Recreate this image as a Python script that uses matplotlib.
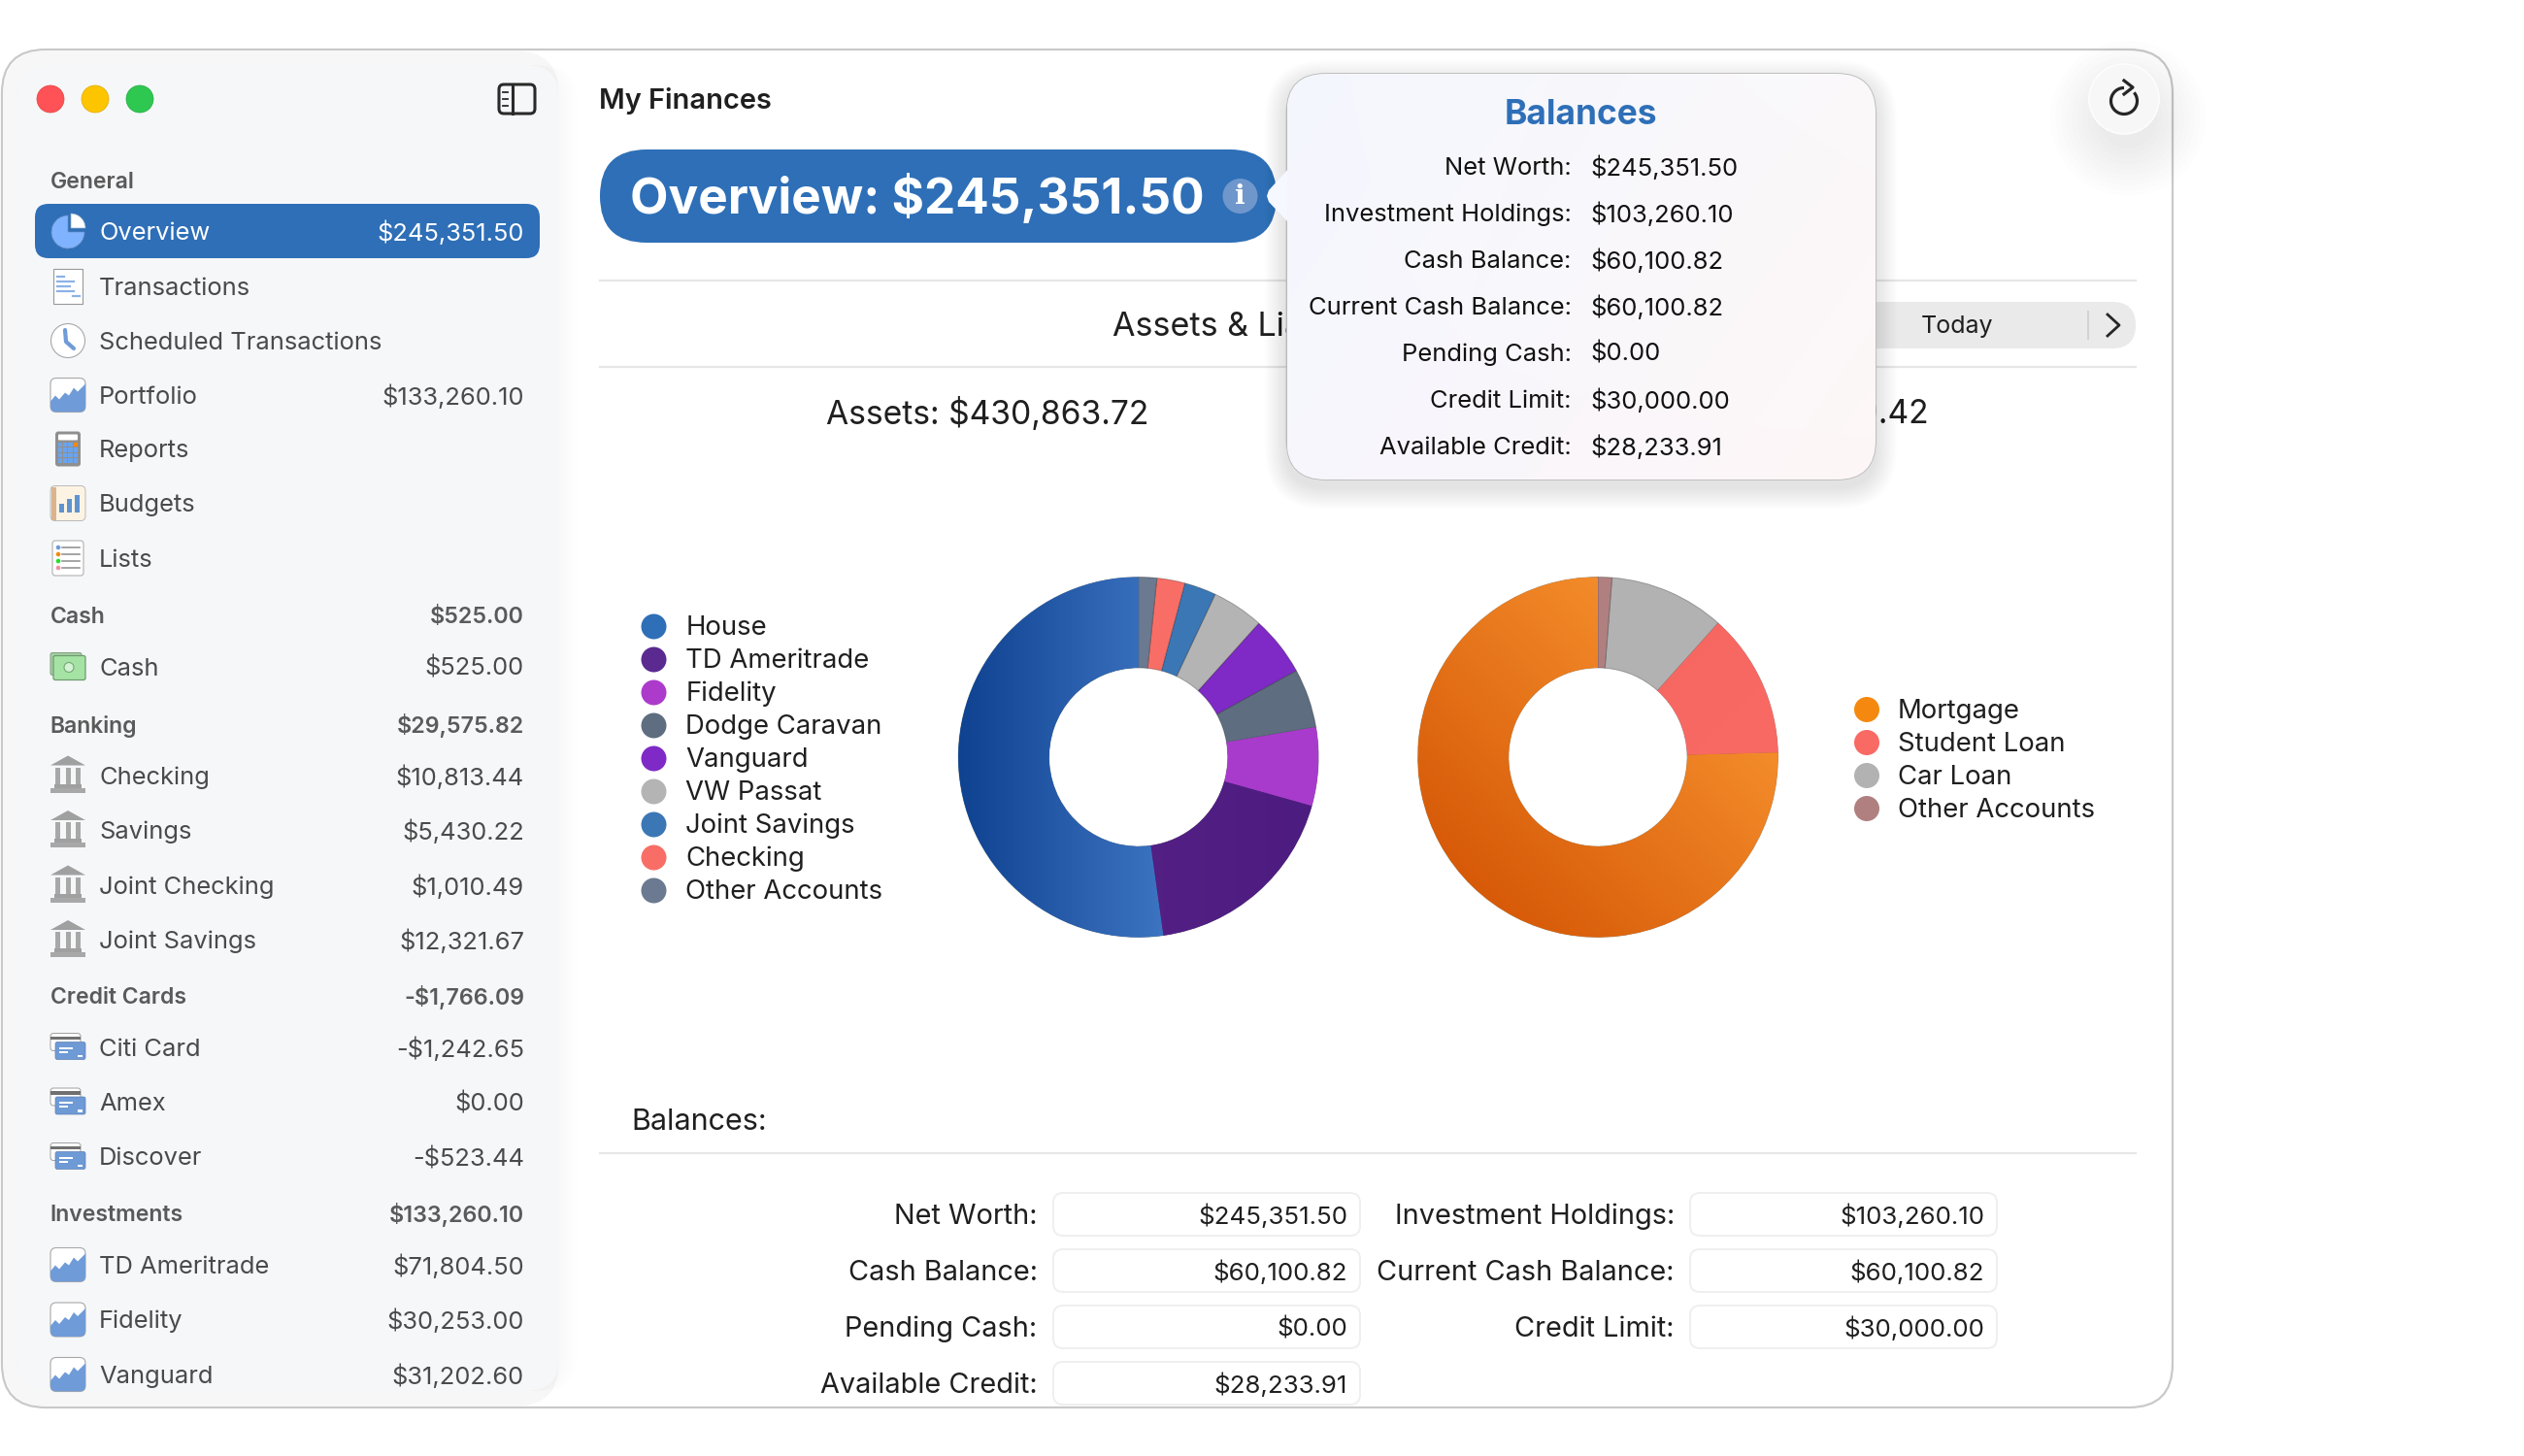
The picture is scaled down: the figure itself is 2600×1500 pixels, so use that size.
#!/usr/bin/env python3
"""Finance app overview screen: sidebar, balances popover and two donut charts."""

import numpy as np
import matplotlib
matplotlib.use("Agg")
import matplotlib.pyplot as plt
from matplotlib.colors import LinearSegmentedColormap
from matplotlib.patches import Arc, Circle, FancyBboxPatch, Polygon, Rectangle, Wedge

plt.rcParams["font.family"] = ["Inter", "DejaVu Sans"]

# sidebar
sidebar_labels = ["General", "Overview", "Transactions", "Scheduled Transactions", "Portfolio",
                  "Reports", "Budgets", "Lists", "Cash", "Cash", "Banking", "Checking", "Savings",
                  "Joint Checking", "Joint Savings", "Credit Cards", "Citi Card", "Amex", "Discover",
                  "Investments", "TD Ameritrade", "Fidelity", "Vanguard"]
sidebar_values = ["", "$245,351.50", "", "", "$133,260.10", "", "", "", "$525.00", "$525.00",
                  "$29,575.82", "$10,813.44", "$5,430.22", "$1,010.49", "$12,321.67", "-$1,766.09",
                  "-$1,242.65", "$0.00", "-$523.44", "$133,260.10", "$71,804.50", "$30,253.00",
                  "$31,202.60"]
sidebar_icons = [None, "pie", "receipt", "clock", "chart", "calc", "budget", "list", None, "cash",
                 None, "bank", "bank", "bank", "bank", None, "card", "card", "card", None,
                 "chart", "chart", "chart"]
sidebar_y = [186, 238, 294.5, 351, 406.5, 462.5, 518.5, 575, 633.5, 686.5, 745.5, 798.5, 855, 911.5, 968,
             1025.5, 1078.5, 1135, 1191.5, 1249.5, 1302.5, 1359, 1415.5]

# donuts, counter-clockwise from the top
asset_names = ["House", "TD Ameritrade", "Fidelity", "Dodge Caravan", "Vanguard", "VW Passat",
               "Joint Savings", "Checking", "Other Accounts"]
asset_values = [225000, 79400, 30253, 22900, 23100, 20000, 12321.67, 10813.44, 7075.61]
asset_colors = ["#2e6fb7", "#5a2a91", "#ac3bcb", "#5e6d80", "#7f2ac6", "#b4b4b4", "#3b77b5",
                "#f86e66", "#6b7a90"]
liability_names = ["Mortgage", "Student Loan", "Car Loan", "Other Accounts"]
liability_values = [139908, 24013, 19272, 2319]
liability_colors = ["#f5880f", "#f96a64", "#b2b2b2", "#b08080"]

# popover and balance fields
balance_labels = ["Net Worth:", "Investment Holdings:", "Cash Balance:", "Current Cash Balance:",
                  "Pending Cash:", "Credit Limit:", "Available Credit:"]
balance_values = ["$245,351.50", "$103,260.10", "$60,100.82", "$60,100.82", "$0.00", "$30,000.00",
                  "$28,233.91"]
# reading order of the field block: left column then right column
field_left = [0, 2, 4, 6]
field_right = [1, 3, 5]

TEXT = "#1f1f1f"
SIDE_TEXT = "#4a4a4a"
BLUE = "#2e6fb7"
RULE = "#e6e6e6"


def fs(px):
    return px * 0.72


def txt(ax, x, y, s, px, **kw):
    # Inter sits a bit high against the reference font
    kw.setdefault("va", "center")
    return ax.text(x, y + 2.5, s, fontsize=fs(px), **kw)


def rrect(ax, x, y, w, h, r, **kw):
    kw.setdefault("linewidth", 0)
    p = FancyBboxPatch((x, y), w, h, boxstyle=f"round,pad=0,rounding_size={r}", **kw)
    ax.add_patch(p)
    return p


def draw_icon(ax, kind, cx, cy):
    z = 6
    if kind == "pie":
        ax.add_patch(Wedge((cx, cy + 1), 17, 0, 270, facecolor="#7fb3ff", edgecolor="#6a8fc0",
                           linewidth=0.5, zorder=z))
        ax.add_patch(Wedge((cx + 3, cy - 3), 15, -90, 0, facecolor="white", edgecolor="#8fa8c8",
                           linewidth=0.5, zorder=z))
    elif kind == "receipt":
        ax.add_patch(Rectangle((cx - 15, cy - 18), 30, 36, facecolor="white", edgecolor="#999999",
                               linewidth=0.8, zorder=z))
        for dy, x0, x1 in [(-10, -11, -4), (-5, -11, 6), (0, -11, 2), (5, -11, 6), (10, 5, 12)]:
            ax.plot([cx + x0, cx + x1], [cy + dy, cy + dy], color="#8db2e6", linewidth=1.6, zorder=z + 1)
    elif kind == "clock":
        ax.add_patch(Circle((cx, cy), 17.5, facecolor="white", edgecolor="#a8a8a8", linewidth=0.8, zorder=z))
        ax.plot([cx - 3, cx - 2, cx + 6], [cy - 11, cy + 1, cy + 8], color="#6f9bd8", linewidth=3,
                solid_capstyle="round", solid_joinstyle="round", zorder=z + 1)
    elif kind == "chart":
        clip = rrect(ax, cx - 18, cy - 17, 36, 35, 6, facecolor="white", edgecolor="#a8a8a8",
                     linewidth=0.8, zorder=z)
        area = Polygon([(cx - 18, cy + 18), (cx - 18, cy + 7), (cx - 13, cy + 1), (cx - 9, cy + 5), (cx - 3, cy - 2),
                        (cx + 1, cy + 1), (cx + 6, cy - 7), (cx + 10, cy - 3), (cx + 18, cy - 11), (cx + 18, cy + 18)],
                       facecolor="#6f9bd8", edgecolor="none", zorder=z + 1)
        ax.add_patch(area)
        area.set_clip_path(clip)
    elif kind == "calc":
        rrect(ax, cx - 13, cy - 18, 26, 36, 3, facecolor="#8f8f8f", zorder=z)
        rrect(ax, cx - 10, cy - 15, 20, 6, 1, facecolor="white", zorder=z + 1)
        for row in range(4):
            for col in range(4):
                c = "#f28a10" if row == 0 and col == 3 else "#6aa4ee"
                ax.add_patch(Rectangle((cx - 10.5 + col * 5.4, cy - 7 + row * 5.6), 4.4, 4.6,
                                       facecolor=c, zorder=z + 1))
    elif kind == "budget":
        rrect(ax, cx - 18, cy - 18, 36, 36, 5, facecolor="#fdf3e3", edgecolor="#b0b0b0",
              linewidth=0.6, zorder=z)
        ax.add_patch(Rectangle((cx - 17.5, cy - 17), 5, 34, facecolor="#d9b48f", zorder=z + 1))
        for x0, top in [(-9, 0), (-1, -5), (7, -9)]:
            ax.add_patch(Rectangle((cx + x0, cy + top), 5, 9 - top, facecolor="#5f93d0", zorder=z + 1))
    elif kind == "list":
        rrect(ax, cx - 16, cy - 18, 32, 36, 3, facecolor="white", edgecolor="#b0b0b0", linewidth=0.8, zorder=z)
        for dy, c in zip([-11, -4, 3, 10], ["#6f9bd8", "#f28a10", "#25e02a", "#f28fa5"]):
            ax.add_patch(Circle((cx - 10, cy + dy), 2.3, facecolor=c, zorder=z + 1))
            ax.plot([cx - 6, cx + 12], [cy + dy, cy + dy], color="#8c8c8c", linewidth=1.1, zorder=z + 1)
    elif kind == "cash":
        rrect(ax, cx - 18, cy - 14, 32, 23, 2, facecolor="#a3cfa3", edgecolor="#7d9e7d", linewidth=0.7, zorder=z)
        rrect(ax, cx - 15, cy - 11, 33, 25, 2, facecolor="#a5e3a5", edgecolor="#6f9a6f", linewidth=0.9, zorder=z + 1)
        ax.add_patch(Circle((cx + 1, cy + 1), 5, facecolor="#d4f2d4", edgecolor="#74a874", linewidth=0.8, zorder=z + 2))
    elif kind == "bank":
        ax.add_patch(Polygon([(cx - 18, cy - 10), (cx, cy - 20), (cx + 18, cy - 10)], facecolor="#a0a0a0", zorder=z))
        for x0 in [-13, -2.5, 8]:
            ax.add_patch(Rectangle((cx + x0, cy - 8), 5, 18, facecolor="#a8a8a8", zorder=z))
        ax.add_patch(Rectangle((cx - 14, cy + 9), 28, 4, facecolor="#a0a0a0", zorder=z))
        ax.add_patch(Rectangle((cx - 18, cy + 13), 36, 5, facecolor="#a8a8a8", zorder=z))
    elif kind == "card":
        rrect(ax, cx - 18, cy - 14, 31, 18, 3, facecolor="white", edgecolor="#a0a0a0", linewidth=0.7, zorder=z)
        ax.add_patch(Rectangle((cx - 18, cy - 11), 31, 3.5, facecolor="#707070", zorder=z + 1))
        rrect(ax, cx - 13, cy - 5, 31, 18, 2, facecolor="#6e9ad6", edgecolor="#5f7fae", linewidth=0.5, zorder=z + 2)
        for dy, w in [(0, 14), (4, 9)]:
            ax.add_patch(Rectangle((cx - 9, cy + dy), w, 2, facecolor="white", zorder=z + 3))
        ax.add_patch(Rectangle((cx + 10, cy + 8), 5, 2.5, facecolor="white", zorder=z + 3))


def draw_donut(fig, cx, cy, values, colors, gradients):
    R = 185.5
    axp = fig.add_axes([(cx - R) / 2600, 1 - (cy + R) / 1500, 2 * R / 2600, 2 * R / 1500], zorder=5)
    wedges, _ = axp.pie(values, colors=colors, startangle=90, counterclock=True, radius=1,
                        wedgeprops=dict(width=1 - 92 / R, edgecolor="#00000044", linewidth=0.7))
    for idx, (c0, c1, dx, dy) in gradients.items():
        xx, yy = np.meshgrid(np.linspace(-1, 1, 300), np.linspace(-1, 1, 300))
        grad = xx * dx + yy * dy
        grad = (grad - grad.min()) / (grad.max() - grad.min())
        cmap = LinearSegmentedColormap.from_list("g", [c0, c1])
        im = axp.imshow(grad, cmap=cmap, extent=(-1, 1, -1, 1), origin="lower", zorder=3)
        im.set_clip_path(wedges[idx])
    axp.set_xlim(-1, 1)
    axp.set_ylim(-1, 1)
    axp.set_aspect("equal")
    axp.axis("off")


def draw_legend(ax, names, colors, x_dot, x_text, y_start):
    for i, (name, c) in enumerate(zip(names, colors)):
        y = y_start + i * 34.0
        ax.add_patch(Circle((x_dot, y), 13, facecolor=c, zorder=4))
        txt(ax, x_text, y - 0.8, name, 27.5, color=TEXT, ha="left", zorder=4)


fig = plt.figure(figsize=(26, 15), dpi=100, facecolor="white")
ax = fig.add_axes([0, 0, 1, 1])
ax.set_xlim(0, 2600)
ax.set_ylim(1500, 0)
ax.axis("off")

# window and sidebar
rrect(ax, 2, 51, 2236, 1399, 45, facecolor="white", edgecolor="#c9c9c9", linewidth=1.6, zorder=1)
rrect(ax, 3.5, 52.5, 572, 1396, 44, facecolor="#f7f7f7", zorder=1.1)
for i in range(6):
    rrect(ax, 17, 67, 559 + (6 - i) * 3, 1366, 34, facecolor="black", alpha=0.003, zorder=1.2)
rrect(ax, 17, 67, 559, 1366, 34, facecolor="#f6f7f9", zorder=2)

for x, c, e in [(52, "#ff5257", "#e0443e"), (98, "#fdc500", "#e0a800"), (144, "#2ec850", "#24a83f")]:
    ax.add_patch(Circle((x, 102), 14, facecolor=c, edgecolor=e, linewidth=0.5, zorder=3))
rrect(ax, 514, 87, 37, 30, 5, facecolor="none", edgecolor="#2a2a2a", linewidth=2.2, zorder=3)
ax.plot([527.5, 527.5], [87, 117], color="#2a2a2a", linewidth=2.2, zorder=3)
for y in [95, 102, 109]:
    ax.plot([518, 523], [y, y], color="#2a2a2a", linewidth=1.3, zorder=3)

rrect(ax, 36, 210, 520, 56, 14, facecolor=BLUE, zorder=3)
for label, value, icon, y in zip(sidebar_labels, sidebar_values, sidebar_icons, sidebar_y):
    if icon is None:
        txt(ax, 51.5, y, label, 23, fontweight="semibold", color="#5a5a5a", zorder=7)
        txt(ax, 540, y, value, 23.3, fontweight="semibold", color="#5a5a5a", ha="right", zorder=7)
    else:
        col = "white" if label == "Overview" else SIDE_TEXT
        draw_icon(ax, icon, 70, y)
        txt(ax, 102, y, label, 25.5, color=col, zorder=7)
        txt(ax, 540, y, value, 25.5, color=col, ha="right", zorder=7)

# header
txt(ax, 617, 102, "My Finances", 29, fontweight="semibold", color=TEXT, zorder=3)
rrect(ax, 618, 154, 697, 96, 48, facecolor=BLUE, zorder=3)
txt(ax, 649, 202, "Overview: $245,351.50", 51.2, fontweight="bold", color="white", zorder=4)
ax.add_patch(Circle((1277.5, 202), 18, facecolor="#6f97cc", zorder=4))
ax.text(1277.5, 202, "i", fontsize=fs(28), fontweight="bold", color="white", ha="center", va="center",
        family=["DejaVu Serif"], zorder=5)

ax.plot([618, 2200], [289, 289], color=RULE, linewidth=1.6, zorder=2)
ax.plot([618, 2200], [378, 378], color=RULE, linewidth=1.6, zorder=2)
# the popover hides the rest of these two lines
txt(ax, 1146, 335, "Assets & Lia", 34, color=TEXT, zorder=3)
txt(ax, 851, 424, "Assets: $430,863.72", 33.6, color=TEXT, zorder=3)
txt(ax, 1987, 424, "9.42", 33.6, color=TEXT, ha="right", zorder=3)

rrect(ax, 1500, 311, 700, 48, 24, facecolor="#eaeaea", zorder=2)
txt(ax, 2016, 333.5, "Today", 25, color=TEXT, ha="center", zorder=3)
ax.plot([2151, 2151], [321, 349], color="#d2d2d2", linewidth=1.4, zorder=3)
ax.plot([2171, 2183, 2171], [324, 335, 346], color="#262626", linewidth=2, zorder=3)

# refresh button
for i in range(10):
    ax.add_patch(Circle((2192, 122), 80 - i * 5.5, facecolor="black", alpha=0.006, edgecolor="none", zorder=2))
ax.add_patch(Circle((2188, 102), 36, facecolor="#f7f7f7", edgecolor="#fdfdfd", linewidth=1.2, zorder=3))
ax.add_patch(Arc((2188, 104), 27, 27, theta1=-40, theta2=270, color="#262626", linewidth=2.3, zorder=4))
ax.plot([2188, 2197, 2188], [83, 90, 97], color="#262626", linewidth=2.3, zorder=4)

# donuts
draw_donut(fig, 1172.7, 780, asset_values, asset_colors,
           {0: ("#0f4290", "#5f9ae8", 1, 0), 1: ("#5a2389", "#4d1c80", 1, 0), 2: ("#a838cc", "#a83ccc", 1, 0)})
draw_donut(fig, 1646, 780, liability_values, liability_colors,
           {0: ("#d04e00", "#ffa038", 1, 1), 1: ("#f66460", "#fa6c66", 1, -1)})
draw_legend(ax, asset_names, asset_colors, 673.5, 706.5, 645.5)
draw_legend(ax, liability_names, liability_colors, 1923, 1955, 731)

# balances block
txt(ax, 650, 1153, "Balances:", 30.5, color=TEXT, zorder=3)
ax.plot([618, 2200], [1188, 1188], color=RULE, linewidth=1.6, zorder=2)
for col, order in enumerate([field_left, field_right]):
    x_label, x_box = (1068.5, 1085) if col == 0 else (1725, 1741)
    for row, i in enumerate(order):
        y = 1251 + row * 58
        txt(ax, x_label, y, balance_labels[i], 28.9, color=TEXT, ha="right", zorder=3)
        rrect(ax, x_box, y - 22, 316, 44, 10, facecolor="white", edgecolor="#efefef", linewidth=1.4, zorder=2)
        txt(ax, x_box + 303, y, balance_values[i], 25.9, color=TEXT, ha="right", zorder=3)

# popover on top of everything in the main pane
for i in range(14):
    g = 22 * (1 - i / 14)
    rrect(ax, 1325 - g, 76 - g + 8, 607 + 2 * g, 418 + 2 * g, 40 + g, facecolor="black", alpha=0.009, zorder=7)
pop = rrect(ax, 1325.5, 76, 606.5, 418, 40, facecolor="#f8f9fc", edgecolor="#b8b8b8", linewidth=1.2, zorder=8)
tip = Polygon([(1328, 173), (1307, 196), (1305, 202), (1307, 208), (1328, 230)], facecolor="#f5f8fe",
              edgecolor="none", zorder=8)
ax.add_patch(tip)
u, v = np.meshgrid(np.linspace(0, 1, 200), np.linspace(0, 1, 200))
img = np.dstack([0.958 + 0.025 * u + 0.012 * v, 0.968 + 0.006 * u - 0.006 * v * u,
                 0.995 - 0.015 * u - 0.012 * v * u])
im = ax.imshow(np.clip(img, 0, 1), extent=(1325.5, 1932, 494, 76), aspect="auto", zorder=8.5)
im.set_clip_path(pop)
ax.set_xlim(0, 2600)
ax.set_ylim(1500, 0)

txt(ax, 1628, 116, "Balances", 35.3, fontweight="bold", color=BLUE, ha="center", zorder=9)
for i, (label, value) in enumerate(zip(balance_labels, balance_values)):
    y = 170.5 + i * 48
    txt(ax, 1618.5, y, label, 25.6, color="#111111", ha="right", zorder=9)
    txt(ax, 1638, y, value, 25.6, color="#111111", ha="left", zorder=9)

fig.savefig("out.png", dpi=100)
